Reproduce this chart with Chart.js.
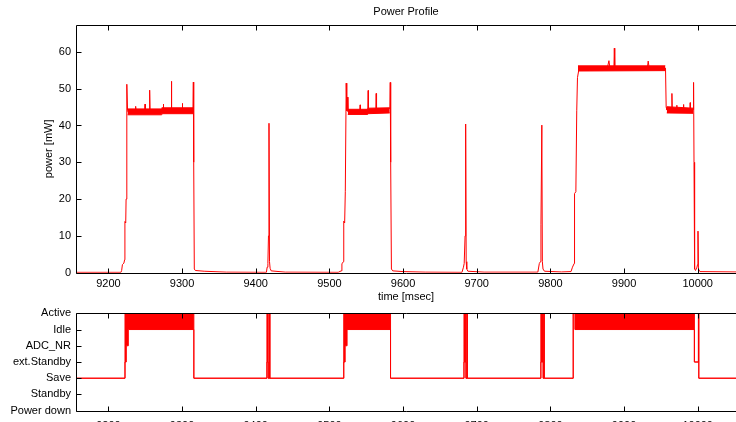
<!DOCTYPE html>
<html>
<head>
<meta charset="utf-8">
<title>Power Profile</title>
<script src="https://cdn.jsdelivr.net/npm/chart.js@4/dist/chart.umd.min.js"></script>
<style>
    html, body { margin: 0; padding: 0; background: #fff; overflow: hidden; width: 736px; height: 422px; }
    .chart { position: absolute; left: 0; width: 736px; }
    .chart-1 { top: 0; height: 305px; }
    .chart-2 { top: 305px; height: 130px; }
</style>
</head>
<body>
<div class="chart chart-1"><canvas id="power-chart" width="736" height="305"></canvas></div>
<div class="chart chart-2"><canvas id="state-chart" width="736" height="130"></canvas></div>
<script>
// power trace [msec] / [mW]
var timeMs = [
    9156, 9217, 9218, 9219, 9221, 9222, 9222.4, 9223.5, 9224, 9225, 9226, 9227, 9236.5, 9237, 9237.5, 9249.3, 9249.7, 9250.2,
    9255.5, 9256, 9256.6, 9274.2, 9274.6, 9275, 9285, 9285.5, 9286, 9300, 9300.4, 9300.8, 9314.8, 9315.3, 9315.8, 9316.6, 9318, 9330, 9360,
    9414.5, 9415.5, 9416.5, 9417.3, 9418, 9418.7, 9419.5, 9421, 9440,
    9512, 9516, 9517, 9519, 9519.5, 9520.7, 9521.6, 9522.8, 9523.6, 9524.4, 9525.2, 9541.2, 9541.7, 9542.2, 9552.1, 9552.6, 9553.1,
    9563, 9563.5, 9564, 9582.1, 9582.6, 9583.2, 9584.2, 9586, 9600, 9630,
    9680, 9682, 9683, 9684.2, 9685, 9685.7, 9686.5, 9688, 9710,
    9783, 9785, 9786.5, 9787.2, 9788.4, 9789.1, 9790, 9792, 9815,
    9828, 9830, 9832.3, 9832.8, 9834.6, 9835.8, 9836.8, 9838.5, 9877.5, 9879.5, 9880.7, 9886.3, 9886.8, 9887.4, 9931.8, 9932.8, 9934,
    9956.3, 9957.2, 9958.2, 9964.5, 9965, 9965.5, 9971.3, 9971.7, 9972.1, 9980.3, 9980.7, 9981.1, 9989.4, 9989.8, 9990.2, 9993.9, 9994.4,
    9995, 9995.8, 9997, 9999, 9999.8, 10000.4, 10001, 10003, 10052
];
var powerMw = [
    0.1, 0.1, 0.6, 2.2, 2.6, 3.5, 13.9, 13.5, 20, 51.2, 44, 43.6, 43.8, 45.2, 43.8, 44, 45.8, 44,
    43.8, 49.6, 44, 44.2, 45.8, 44.2, 44.3, 52, 44.3, 44.3, 46, 44.3, 44.4, 51.8, 30, 1, 0.6, 0.4, 0.15,
    0.1, 1.5, 2.5, 10, 40.6, 3, 1.2, 0.5, 0.15,
    0.1, 0.5, 2.4, 3, 14, 13.5, 22, 51.5, 44, 47.7, 43.8, 44, 45.6, 44, 44.2, 49.5, 44.2,
    44.3, 48.7, 44.3, 44.6, 51.7, 30, 1, 0.5, 0.3, 0.15,
    0.1, 1.5, 2.5, 10, 40.4, 3, 1, 0.4, 0.15,
    0.15, 2.5, 3, 13, 40.1, 3, 1, 0.4, 0.2,
    0.3, 1.5, 2.5, 21.5, 22, 44, 53, 55, 55.8, 57.6, 55.8, 55.8, 61, 55.8, 55.8, 57.5, 55.8,
    55.6, 45, 44.2, 44.2, 48.7, 44.2, 44, 45.5, 44, 44, 45.7, 44, 44.1, 46.2, 44.1, 44.3, 51.7,
    30, 1, 0.6, 1.5, 2.2, 11.3, 1, 0.3, 0.2
];

// noise band while the cpu toggles (null = gap)
var bandTime = [9226, 9272, 9272.5, 9315, 9400, 9525, 9552, 9552.5, 9582, 9700, 9837.5, 9956, 9957, 9958, 9994];
var bandLow  = [42.9, 42.9, 43.2, 43.2, null, 43, 43, 43.2, 43.4, null, 54.8, 54.9, null, 43.4, 43.3];
var bandHigh = [44.5, 44.5, 44.8, 44.8, null, 44.4, 44.4, 44.7, 44.8, null, 56.2, 56.2, null, 45.1, 44.7];

// sleep modes, index = position on the axis
var stateLabels = ["Power down", "Standby", "Save", "ext.Standby", "ADC_NR", "Idle", "Active"];
var stateTime = [9156, 9222.5, 9224.3, 9227, 9316, 9415.2, 9417, 9418.8, 9419.2, 9519.5, 9521.4, 9524, 9583,
    9682.7, 9685.4, 9686.8, 9687.2, 9787.1, 9790.2, 9791.2, 9791.6, 9831, 9833.3, 9995.5, 10001, 10001.5, 10052];
var stateLow  = [2, 3, 4, 5, 2, 3, 2, 6, 2, 3, 4, 5, 2, 3, 2, 6, 2, 3, 2, 6, 2, 6, 5, 3, 6, 2, 2];
var stateHigh = [2, 6, 6, 6, 2, 6, 2, 6, 2, 6, 6, 6, 2, 6, 2, 6, 2, 6, 2, 6, 2, 6, 6, 3, 6, 2, 2];

var timeTicks = [9200, 9300, 9400, 9500, 9600, 9700, 9800, 9900, 10000];
var timeMin = 9156;
var timeMax = 10052;

Chart.defaults.font.family = '"Liberation Sans", Arial, sans-serif';
Chart.defaults.font.size = 11;
Chart.defaults.color = "#000";

//zip two arrays into points
function toPoints(xs, ys) {
    var points = [];
    for (var i = 0; i < xs.length; ++i) {
        points.push({ x: xs[i], y: ys[i] });
    }
    return points;
}

function crisp(v) {
    return Math.round(v) + 0.5;
}

//frame with inward ticks (matlab look) + texts
var framePlugin = {
    id: "frame",
    afterDraw: function(chart, args, opts) {
        var ctx = chart.ctx;
        var area = chart.chartArea;
        var xScale = chart.scales.x;
        var yScale = chart.scales.y;
        var left = crisp(area.left), top = crisp(area.top), bottom = crisp(area.bottom);
        ctx.save();
        ctx.strokeStyle = "#000";
        ctx.lineWidth = 1;
        ctx.beginPath();
        ctx.moveTo(area.right + 2, top);
        ctx.lineTo(left, top);
        ctx.lineTo(left, bottom);
        ctx.lineTo(area.right + 2, bottom);
        xScale.ticks.forEach(function(tick) {
            var px = crisp(xScale.getPixelForValue(tick.value));
            ctx.moveTo(px, bottom);
            ctx.lineTo(px, bottom - 5);
            ctx.moveTo(px, top);
            ctx.lineTo(px, top + 5);
        });
        yScale.ticks.forEach(function(tick) {
            var py = crisp(yScale.getPixelForValue(tick.value));
            ctx.moveTo(left, py);
            ctx.lineTo(left + 5, py);
        });
        ctx.stroke();

        ctx.fillStyle = "#000";
        ctx.font = '11px "Liberation Sans", Arial, sans-serif';
        ctx.textAlign = "center";
        ctx.textBaseline = "middle";
        var cx = (area.left + area.right) / 2;
        if (opts.title) {
            ctx.fillText(opts.title, cx, 12);
        }
        if (opts.xLabel) {
            ctx.fillText(opts.xLabel, cx, 297);
        }
        if (opts.yLabel) {
            ctx.translate(49, (area.top + area.bottom) / 2);
            ctx.rotate(-Math.PI / 2);
            ctx.fillText(opts.yLabel, 0, 0);
        }
        ctx.restore();
    }
};

function timeAxis(labelPadding, height) {
    return {
        type: "linear",
        min: timeMin,
        max: timeMax,
        grid: { display: false, drawTicks: false },
        border: { display: false },
        afterBuildTicks: function(scale) {
            scale.ticks = timeTicks.map(function(v) { return { value: v }; });
        },
        afterFit: function(scale) {
            scale.height = height;
            scale.paddingLeft = 0;
            scale.paddingRight = 0;
        },
        ticks: {
            padding: labelPadding,
            autoSkip: false,
            maxRotation: 0,
            callback: function(value) { return String(value); }
        }
    };
}

function valueAxis(min, max, ticks) {
    return {
        min: min,
        max: max,
        grid: { display: false, drawTicks: false },
        border: { display: false },
        afterFit: function(scale) {
            scale.width = 76;
            scale.paddingTop = 0;
            scale.paddingBottom = 0;
        },
        ticks: ticks
    };
}

//init chart 1 (power)
function initPowerChart(canvas) {
    return new Chart(canvas, {
        type: "line",
        plugins: [framePlugin],
        data: {
            datasets: [{
                data: toPoints(bandTime, bandLow),
                borderColor: "#ff0000",
                borderWidth: 1,
                fill: false
            }, {
                data: toPoints(bandTime, bandHigh),
                borderColor: "#ff0000",
                backgroundColor: "#ff0000",
                borderWidth: 1,
                fill: "-1"
            }, {
                data: toPoints(timeMs, powerMw),
                borderColor: "#ff0000",
                borderWidth: 1,
                fill: false
            }]
        },
        options: {
            responsive: false,
            animation: false,
            layout: { padding: { top: 25, right: 0, left: 0, bottom: 0 } },
            elements: { point: { radius: 0 }, line: { tension: 0 } },
            plugins: {
                legend: { display: false },
                tooltip: { enabled: false },
                frame: { title: "Power Profile", xLabel: "time [msec]", yLabel: "power [mW]" }
            },
            scales: {
                x: timeAxis(5, 32.3),
                y: valueAxis(0, 67.3, { stepSize: 10, includeBounds: false, padding: 5 })
            }
        }
    });
}

//init chart 2 (modes)
function initStateChart(canvas) {
    return new Chart(canvas, {
        type: "line",
        plugins: [framePlugin],
        data: {
            datasets: [{
                data: toPoints(stateTime, stateLow),
                borderColor: "#ff0000",
                borderWidth: 1,
                stepped: true,
                fill: false
            }, {
                data: toPoints(stateTime, stateHigh),
                borderColor: "#ff0000",
                backgroundColor: "#ff0000",
                borderWidth: 1,
                stepped: true,
                fill: "-1"
            }]
        },
        options: {
            responsive: false,
            animation: false,
            layout: { padding: { top: 8.3, right: 0, left: 0, bottom: 0 } },
            elements: { point: { radius: 0 } },
            plugins: {
                legend: { display: false },
                tooltip: { enabled: false },
                frame: {}
            },
            scales: {
                x: timeAxis(9, 24.3),
                y: valueAxis(0, 6, {
                    stepSize: 1,
                    padding: 5,
                    autoSkip: false,
                    callback: function(value) { return stateLabels[value]; }
                })
            }
        }
    });
}

initPowerChart(document.getElementById("power-chart"));
initStateChart(document.getElementById("state-chart"));
</script>
</body>
</html>
